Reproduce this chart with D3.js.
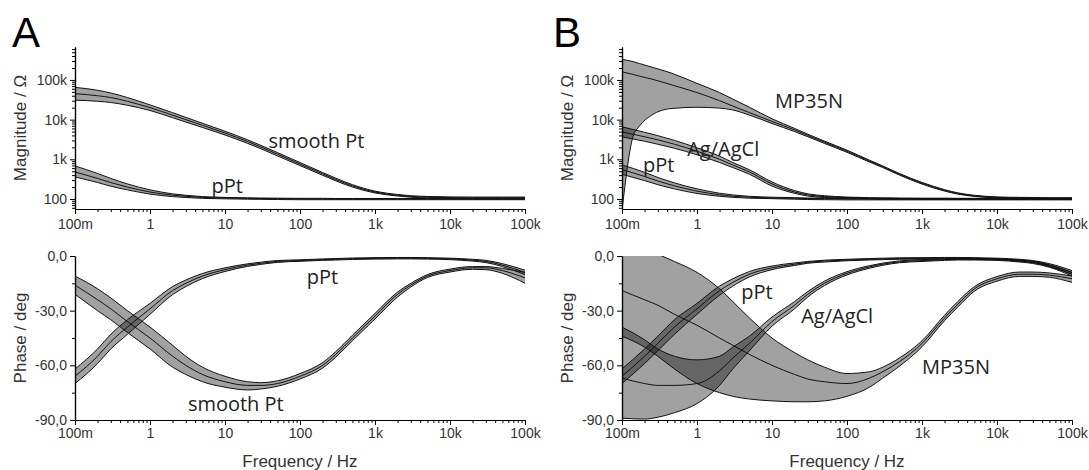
<!DOCTYPE html>
<html><head><meta charset="utf-8">
<script src="https://cdn.jsdelivr.net/npm/d3@7"></script>
<style>body{margin:0;background:#fff}svg{display:block}</style>
</head><body><svg id="c" width="1089" height="470"></svg>
<script>
// ---------- DATA ----------
const freqs = [0.1,0.2,0.3,0.5,1,2,3,5,10,20,30,50,100,200,300,500,1e3,2e3,3e3,5e3,1e4,2e4,3e4,5e4,1e5];
const xMajor = [0.1,1,10,100,1e3,1e4,1e5];
const xTickLabels = ["100m","1","10","100","1k","10k","100k"];
const magMajor = [100,1e3,1e4,1e5];
const magTickLabels = ["100","1k","10k","100k"];
const phaseMajor = [0,-30,-60,-90];
const phaseTickLabels = ["0,0","-30,0","-60,0","-90,0"];
const phaseMinor = [-15,-45,-75];

// Panel A, magnitude (Ohm)
const aMagSmoothMean = [45000,40000,36000,29000,20000,13000,10000,7200,4600,2800,2050,1350,760,430,310,215,150,124,116,111,108,107,107,107,107];
const aMagSmoothHi   = [65000,55000,47000,36000,23500,15000,11400,8100,5100,3100,2250,1480,830,465,335,230,158,130,121,116,113,112,112,112,112];
const aMagSmoothLo   = [31000,29000,27000,23000,17000,11200,8700,6350,4100,2520,1850,1220,695,397,287,200,142,119,111,106,103,102,102,102,102];
const aMagPPtMean = [480,330,260,200,150,125,117,110,106,104,103,102,101,100,100,100,100,100,100,100,100,100,100,100,100];
const aMagPPtHi   = [680,440,330,240,170,135,124,115,110,107,106,105,104,104,103,103,103,103,103,103,103,103,103,103,103];
const aMagPPtLo   = [360,260,210,170,133,115,109,104,101,99,98,97,96,96,96,96,96,96,96,96,96,96,96,96,96];
// Panel A, phase (deg)
const aPhSmoothMean = [-16,-24,-29,-36,-45,-55,-60,-65,-69,-71,-71,-70,-66,-60,-54,-45,-33,-21,-16,-11,-8,-6.5,-6.5,-8,-12];
const aPhSmoothHi   = [-11,-18,-23,-30,-39,-49,-55,-61,-66,-69,-69.5,-68.5,-64.5,-58.5,-52.5,-43.5,-31.5,-19.8,-15,-10.2,-7.2,-5.8,-5.8,-6.8,-9];
const aPhSmoothLo   = [-21,-30,-35,-42,-51,-61,-65,-69,-72,-73.5,-73,-71.5,-67.5,-61.5,-55.5,-46.5,-34.5,-22.5,-17,-11.8,-8.8,-7.3,-7.5,-9.5,-15];
const aPhPPtMean = [-66,-55,-47,-39,-29,-19,-15,-11,-7.5,-5,-4,-3,-2.5,-2,-1.8,-1.5,-1.3,-1.2,-1.2,-1.3,-1.6,-2.3,-3,-5,-9];
const aPhPPtHi   = [-62,-51,-43,-35,-26,-16.8,-13.2,-9.6,-6.5,-4.3,-3.4,-2.5,-2.1,-1.6,-1.4,-1.1,-0.9,-0.8,-0.8,-0.9,-1.2,-1.8,-2.4,-4.2,-7.8];
const aPhPPtLo   = [-70,-59,-51,-43,-32,-21.2,-16.8,-12.4,-8.5,-5.7,-4.6,-3.5,-2.9,-2.4,-2.2,-1.9,-1.7,-1.6,-1.6,-1.7,-2,-2.8,-3.6,-5.8,-10.2];

// Panel B, magnitude (Ohm)
const bMagMpFreqs = [0.1,0.14,0.17,0.25,0.45,1,2,3,5,10,20,30,50,100,200,300,500,1e3,2e3,3e3,5e3,1e4,2e4,3e4,5e4,1e5];
const bMagMpMean = [160000,138000,125000,105000,76000,48000,30000,22000,15000,9000,5500,4000,2700,1600,900,650,420,250,165,138,120,110,106,104,103,102];
const bMagMpHi   = [330000,290000,260000,210000,150000,82000,48000,33000,20500,10500,6000,4300,2880,1700,950,680,440,262,172,143,124,113,110,109,108,108];
const bMagMpLo   = [52,3700,6800,13000,19000,20500,19500,17500,13000,8000,5000,3700,2520,1500,850,620,400,238,158,133,116,106,101,99,98,97];
const bMagAgMean = [4900,3700,3100,2400,1600,1000,720,480,240,150,127,115,108,105,104,103,102,102,101,101,101,101,101,101,101];
const bMagAgHi   = [6600,4800,3950,3000,1950,1200,830,545,268,163,135,121,112,108,107,106,105,105,104,104,104,104,104,104,104];
const bMagAgLo   = [3700,2850,2400,1900,1300,830,620,420,212,139,119,109,104,102,101,100,99,99,99,99,99,99,99,99,99];
const bMagPPtMean = [550,370,285,215,158,128,118,111,106,104,103,102,101,100,99,99,99,99,99,99,99,99,99,99,99];
const bMagPPtHi   = [720,470,350,255,180,140,127,117,111,108,106,105,104,103,102,102,102,102,102,102,102,102,102,102,102];
const bMagPPtLo   = [420,290,230,180,138,117,110,105,102,99,97,96,95,95,95,95,95,95,95,95,95,95,95,95,95];
// Panel B, phase (deg)
const bPhMpMean = [-19,-24,-27,-32,-38,-45,-49,-54,-60,-65,-67.5,-69,-70,-67,-63.5,-58,-48,-34,-26.5,-18,-12.5,-10,-10,-10.5,-12.5];
const bPhMpHi   = [8,4,1,-3,-9,-18,-25,-34,-45,-53,-57,-61,-64.5,-63.5,-61,-56,-46.5,-32.5,-25,-16.8,-11.3,-8.8,-8.8,-9.3,-11];
const bPhMpLo   = [-44,-50,-55,-62,-70,-75,-77,-78.5,-79.5,-80,-80,-79.5,-77,-72,-67,-60.5,-49.8,-35.5,-28,-19.3,-13.8,-11.2,-11.2,-11.7,-14.5];
const bPhAgMean = [-67,-70,-71,-71,-70,-63,-56,-48,-36,-27,-21,-15,-9.5,-6,-4.5,-3.2,-2.5,-2,-1.8,-1.8,-2,-2.8,-3.5,-5.5,-10];
const bPhAgHi   = [-39,-46,-51,-55,-57,-55,-50,-44,-33.5,-25,-19.5,-13.8,-8.6,-5.3,-3.9,-2.7,-2,-1.6,-1.4,-1.4,-1.6,-2.3,-2.9,-4.8,-9];
const bPhAgLo   = [-89,-89.5,-88.5,-86,-81,-71,-62,-52,-38.5,-29,-22.5,-16.2,-10.4,-6.7,-5.1,-3.7,-3,-2.4,-2.2,-2.2,-2.4,-3.3,-4.1,-6.2,-11];
const bPhPPtMean = [-66,-55,-48,-39,-29,-19,-14.5,-10,-6.5,-4.5,-3.5,-2.8,-2.2,-1.8,-1.6,-1.4,-1.3,-1.2,-1.2,-1.3,-1.6,-2.3,-3,-5,-9];
const bPhPPtHi   = [-62,-51,-44,-35,-26,-16.5,-12.5,-8.5,-5.5,-3.8,-3,-2.3,-1.8,-1.4,-1.2,-1,-0.9,-0.8,-0.8,-0.9,-1.2,-1.8,-2.5,-4.2,-8];
const bPhPPtLo   = [-70,-59,-52,-43,-32,-21.5,-16.5,-11.5,-7.5,-5.2,-4,-3.3,-2.6,-2.2,-2,-1.8,-1.7,-1.6,-1.6,-1.7,-2,-2.8,-3.5,-5.8,-10];

// Series label annotations: [text, frequency, value]
const aMagLabels = [["smooth Pt",38,2900],["pPt",6.6,225]];
const aPhLabels  = [["pPt",123,-11.4],["smooth Pt",3.2,-80.7]];
const bMagLabels = [["MP35N",11,31000],["Ag/AgCl",0.74,1900],["pPt",0.19,720]];
const bPhLabels  = [["pPt",3.9,-19.6],["Ag/AgCl",24.5,-32.4],["MP35N",1000,-60.7]];

// ---------- DRAW ----------
const svg = d3.select("#c");
const TICKFONT = "'Liberation Sans', Arial, sans-serif";
const LABELFONT = "'Open Sans', 'Noto Sans', sans-serif";

function series(f, mean, hi, lo){ return f.map((v,i)=>({f:v, m:mean[i], hi:hi[i], lo:lo[i]})); }

const panels = [
  {letter:"A", letterX:12, x0:75, x1:525,
   mag:[series(freqs,aMagSmoothMean,aMagSmoothHi,aMagSmoothLo), series(freqs,aMagPPtMean,aMagPPtHi,aMagPPtLo)],
   ph:[series(freqs,aPhSmoothMean,aPhSmoothHi,aPhSmoothLo), series(freqs,aPhPPtMean,aPhPPtHi,aPhPPtLo)],
   magLabels:aMagLabels, phLabels:aPhLabels},
  {letter:"B", letterX:553, x0:622, x1:1072,
   mag:[series(bMagMpFreqs,bMagMpMean,bMagMpHi,bMagMpLo), series(freqs,bMagAgMean,bMagAgHi,bMagAgLo), series(freqs,bMagPPtMean,bMagPPtHi,bMagPPtLo)],
   ph:[series(freqs,bPhMpMean,bPhMpHi,bPhMpLo), series(freqs,bPhAgMean,bPhAgHi,bPhAgLo), series(freqs,bPhPPtMean,bPhPPtHi,bPhPPtLo)],
   magLabels:bMagLabels, phLabels:bPhLabels}
];

const MAG = {top:47, bottom:209};
const PH = {top:256, bottom:420};

const xMinor = [];
for (let d=0.1; d<1e5; d*=10) for (let k=2;k<=9;k++) xMinor.push(+(d*k).toPrecision(3));
const magMinor = [];
for (let d=10; d<1e6; d*=10) for (let k=2;k<=9;k++){ const v=d*k; if (v>=56 && v<=676000) magMinor.push(v); }

const defs = svg.append("defs");
let clipId = 0;

function styleAxis(g){
  g.selectAll("path.domain").attr("stroke","#000").attr("stroke-width",1.2);
  g.selectAll(".tick line").attr("stroke","#000").attr("stroke-width",1);
  g.selectAll(".tick text").attr("fill","#333").attr("font-size",14).attr("font-family",TICKFONT);
}

function drawPlot(p, x, y, data, labels, isMag, majorY, yLabels, minorY, yTitle){
  const top = isMag ? MAG.top : PH.top, bottom = isMag ? MAG.bottom : PH.bottom;
  const id = "clip"+(clipId++);
  defs.append("clipPath").attr("id",id).append("rect")
    .attr("x",p.x0).attr("y",top).attr("width",p.x1-p.x0+2).attr("height",bottom-top);
  const g = svg.append("g").attr("clip-path",`url(#${id})`);
  const area = d3.area().x(d=>x(d.f)).y0(d=>y(d.lo)).y1(d=>y(d.hi)).curve(d3.curveMonotoneX);
  const line = key => d3.line().x(d=>x(d.f)).y(d=>y(d[key])).curve(d3.curveMonotoneX);
  data.forEach(s=>{
    g.append("path").attr("d",area(s)).attr("fill","#000").attr("fill-opacity",0.37).attr("stroke","none");
  });
  data.forEach(s=>{
    ["hi","lo","m"].forEach(k=>{
      g.append("path").attr("d",line(k)(s)).attr("fill","none").attr("stroke","#111").attr("stroke-width",1);
    });
  });
  // axes
  const gx = svg.append("g").attr("transform",`translate(0,${bottom})`);
  gx.append("g").call(d3.axisBottom(x).tickValues(xMinor).tickFormat("").tickSize(3).tickSizeOuter(0));
  gx.append("g").call(d3.axisBottom(x).tickValues(xMajor).tickFormat((d,i)=>xTickLabels[i]).tickSize(5).tickSizeOuter(0).tickPadding(isMag?5:3));
  styleAxis(gx);
  const gy = svg.append("g").attr("transform",`translate(${p.x0},0)`);
  gy.append("g").call(d3.axisLeft(y).tickValues(minorY).tickFormat("").tickSize(3).tickSizeOuter(0));
  gy.append("g").call(d3.axisLeft(y).tickValues(majorY).tickFormat((d,i)=>yLabels[i]).tickSize(5).tickSizeOuter(0).tickPadding(3));
  styleAxis(gy);
  // y title
  svg.append("text").attr("transform",`translate(${p.x0-55},${(top+bottom)/2}) rotate(-90)`)
    .attr("text-anchor","middle").attr("dominant-baseline","central")
    .attr("font-family",TICKFONT).attr("font-size",17).attr("fill","#333").text(yTitle);
  // series labels
  labels.forEach(([t,f,v])=>{
    svg.append("text").attr("x",x(f)).attr("y",y(v)).attr("dominant-baseline","central")
      .attr("font-family",LABELFONT).attr("font-size",20).attr("fill","#222").text(t);
  });
}

panels.forEach(p=>{
  const x = d3.scaleLog().domain([0.1,1e5]).range([p.x0,p.x1]);
  const yMag = d3.scaleLog().domain([56,676000]).range([MAG.bottom,MAG.top]);
  const yPh = d3.scaleLinear().domain([-90,0]).range([PH.bottom,PH.top]);
  drawPlot(p, x, yMag, p.mag, p.magLabels, true, magMajor, magTickLabels, magMinor, "Magnitude / \u03A9");
  drawPlot(p, x, yPh, p.ph, p.phLabels, false, phaseMajor, phaseTickLabels, phaseMinor, "Phase / deg");
  svg.append("text").attr("x",(p.x0+p.x1)/2).attr("y",461).attr("text-anchor","middle")
    .attr("dominant-baseline","central").attr("font-family",TICKFONT).attr("font-size",17).attr("fill","#333")
    .text("Frequency / Hz");
  svg.append("text").attr("x",p.letterX).attr("y",47).attr("font-family",TICKFONT)
    .attr("font-size",42).attr("fill","#000").text(p.letter);
});
</script>
</body></html>
